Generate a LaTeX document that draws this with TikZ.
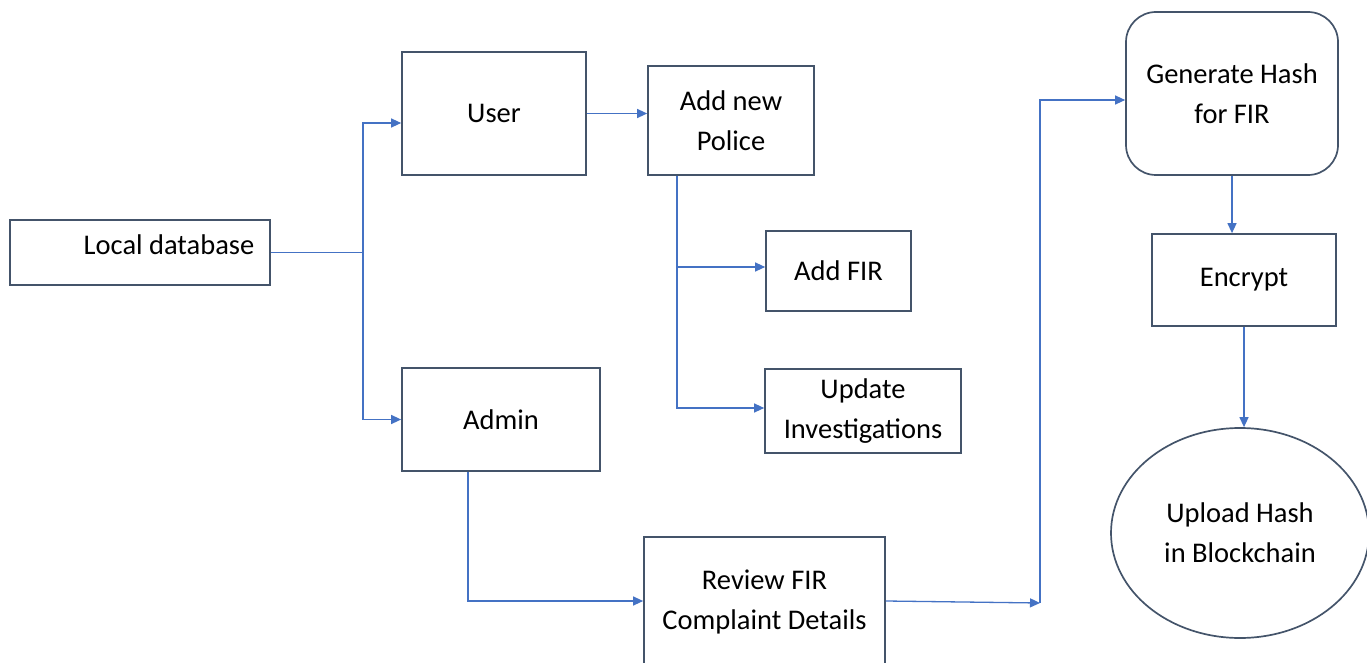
\documentclass[tikz,border=0pt]{standalone}
\usepackage{fontspec}
\setmainfont{Carlito}
\usetikzlibrary{arrows.meta,shapes.geometric}
\definecolor{boxline}{HTML}{44546A}
\definecolor{conn}{HTML}{4472C4}
\tikzset{
  box/.style={draw=boxline, line width=1.7pt, rectangle, inner sep=0pt, align=center,
    font=\fontsize{28.5}{40}\selectfont},
  txt/.style={inner sep=0pt, align=center, font=\fontsize{28.5}{40}\selectfont},
  link/.style={draw=conn, line width=1.3pt},
  arr/.style={link, -{Triangle[length=10pt,width=9pt]}}
}
\begin{document}
\begin{tikzpicture}[x=1pt,y=-1pt]
\useasboundingbox (0,0) rectangle (1367,663);
\begin{scope}
\clip (0,0) rectangle (1367,663);
\node[box, minimum width=260pt, minimum height=65pt] (ldb) at (140,252.5) {};
\node[txt] (ldbt) at (169,245) {Local database};
\node[box, minimum width=184pt, minimum height=123pt] (user) at (494,113.5) {User};
\node[box, minimum width=166pt, minimum height=109pt] (police) at (731,120.5) {Add new\\Police};
\node[box, minimum width=145pt, minimum height=80pt] (fir) at (838.5,271) {Add FIR};
\node[box, minimum width=196pt, minimum height=84pt] (upd) at (863,411) {Update\\Investigations};
\node[box, minimum width=198pt, minimum height=103pt] (admin) at (501,419.5) {Admin};
\node[box, minimum width=241pt, minimum height=131pt] (rev) at (764.5,602.5) {};
\node[txt] (revt) at (764.5,602) {Review FIR\\Complaint Details};
\node[box, rounded corners=30pt, minimum width=212pt, minimum height=163pt] (gen) at (1232,93.5) {Generate Hash\\for FIR};
\node[box, minimum width=184pt, minimum height=92pt] (enc) at (1244,280) {Encrypt};
\node[box, ellipse, minimum width=258pt, minimum height=210pt] (up) at (1240,533) {Upload Hash\\in Blockchain};

\coordinate (j1) at (363,252.5);
\coordinate (j2) at (1040,603);
\draw[link] (ldb.east) -- (j1);
\draw[arr] (j1) |- ([yshift=-9.5pt]user.west);
\draw[arr] (j1) |- (admin.west);
\draw[arr] (user.east) -- (user.east -| police.west);
\draw[arr] ([xshift=-54pt]police.south) |- ([yshift=4pt]fir.west);
\draw[arr] ([xshift=-54pt]police.south) |- ([yshift=3pt]upd.west);
\draw[arr] ([xshift=-33pt]admin.south) |- ([yshift=1.5pt]rev.west);
\draw[arr] ([yshift=1.5pt]rev.east) -- (j2);
\draw[arr] (j2) |- ([yshift=-6.5pt]gen.west);
\draw[arr] (gen.south) -- (gen.south |- enc.north);
\draw[arr] (enc.south) -- (enc.south |- up.north);
\end{scope}
\end{tikzpicture}
\end{document}
